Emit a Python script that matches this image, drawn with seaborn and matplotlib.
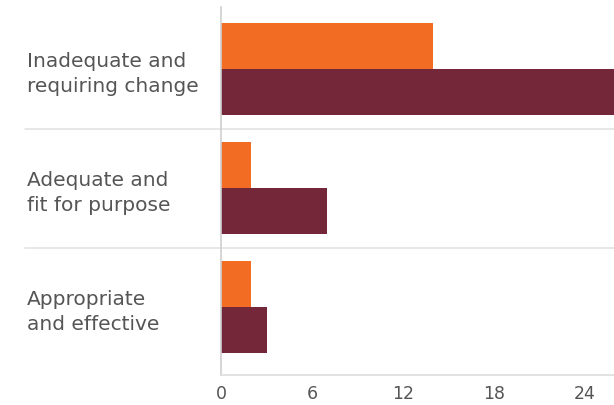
import matplotlib
matplotlib.use("Agg")
import matplotlib.pyplot as plt
import seaborn as sns
import pandas as pd

categories = ["Inadequate and\nrequiring change", "Adequate and\nfit for purpose", "Appropriate\nand effective"]
series_names = ["Series 1", "Series 2"]
series1 = [14, 2, 2]
series2 = [26, 7, 3]
xticks = [0, 6, 12, 18, 24]

df = pd.DataFrame({
    "category": categories * 2,
    "series": [series_names[0]] * 3 + [series_names[1]] * 3,
    "value": series1 + series2,
})

sns.set_theme(style="white")
plt.rcParams["font.family"] = ["DejaVu Sans"]

W, H = 614, 405
PT = 72 / 100  # points per pixel
fig = plt.figure(figsize=(W / 100, H / 100), dpi=100)
ax = fig.add_axes([221 / W, 1 - 375 / H, (W - 221) / W, (375 - 7) / H])

sns.barplot(data=df, y="category", x="value", hue="series", order=categories,
            hue_order=series_names, palette=["#F26D23", "#75273A"], orient="h",
            width=0.77, saturation=1, ax=ax, legend=False, linewidth=0)

ax.set_xlim(0, 393 / (364 / 24))
ax.set_ylim(2.571, -0.521)
ax.set_xticks(xticks)
ax.set_xticklabels([str(t) for t in xticks])
ax.set_xlabel("")
ax.set_ylabel("")

ax.tick_params(axis="x", length=0, pad=10 * PT, labelsize=12.5, labelcolor="#555555")
ax.tick_params(axis="y", length=0, pad=194 * PT, labelsize=14.5, labelcolor="#555555")
for lbl in ax.get_yticklabels():
    lbl.set_horizontalalignment("left")
    lbl.set_linespacing(1.4)

for s in ["top", "right"]:
    ax.spines[s].set_visible(False)
ax.spines["left"].set_color("#cfcfcf")
ax.spines["left"].set_linewidth(1.2)
ax.spines["bottom"].set_color("#dddddd")
ax.spines["bottom"].set_linewidth(1.2)

for y in [0.5, 1.5]:
    ax.axhline(y, xmin=(25 - 221) / (W - 221), xmax=1, clip_on=False,
               color="#e3e3e3", lw=1.2, zorder=0)

fig.savefig("out.png", dpi=100)
